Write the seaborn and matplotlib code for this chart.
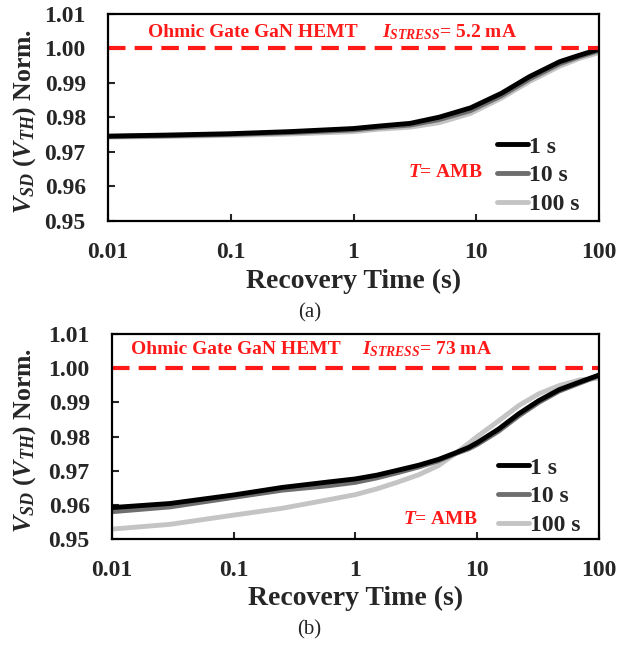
import pandas as pd
import matplotlib
matplotlib.use("Agg")
import matplotlib.pyplot as plt
import seaborn as sns

durations = ["1 s", "10 s", "100 s"]

# (a) I_stress = 5.2 mA, recovery time (s) and normalised V_SD
times_a = [0.01, 0.03, 0.1, 0.3, 1, 1.6, 2.9, 5, 9, 16, 27, 48, 70, 100]
a_1s = [0.9746, 0.9749, 0.9753, 0.9759, 0.9768, 0.9775, 0.9783, 0.9801, 0.9828, 0.9870, 0.9918, 0.9962, 0.9981, 0.9998]
a_10s = [0.9745, 0.9747, 0.9751, 0.9756, 0.9764, 0.9771, 0.9778, 0.9794, 0.9820, 0.9863, 0.9911, 0.9956, 0.9977, 0.9994]
a_100s = [0.9743, 0.9745, 0.9748, 0.9752, 0.9759, 0.9766, 0.9772, 0.9785, 0.9812, 0.9856, 0.9904, 0.9949, 0.9972, 0.9988]

# (b) I_stress = 73 mA
times_b = [0.01, 0.03, 0.1, 0.25, 0.6, 1, 1.5, 2.2, 3.3, 4.8, 6.5, 8.5, 10, 15, 22, 32, 47, 70, 100]
b_1s = [0.9592, 0.9604, 0.9629, 0.9651, 0.9667, 0.9676, 0.9687, 0.9701, 0.9716, 0.9733, 0.9751, 0.9768, 0.9782, 0.9822, 0.9867, 0.9905, 0.9937, 0.9960, 0.9980]
b_10s = [0.9580, 0.9594, 0.9622, 0.9643, 0.9656, 0.9666, 0.9679, 0.9694, 0.9711, 0.9729, 0.9749, 0.9764, 0.9777, 0.9816, 0.9861, 0.9900, 0.9933, 0.9957, 0.9978]
b_100s = [0.9529, 0.9543, 0.9570, 0.9590, 0.9615, 0.9630, 0.9647, 0.9666, 0.9688, 0.9715, 0.9748, 0.9780, 0.9800, 0.9846, 0.9891, 0.9925, 0.9949, 0.9966, 0.9971]

x_ticks = [0.01, 0.1, 1, 10, 100]
x_ticklabels = ["0.01", "0.1", "1", "10", "100"]
y_ticks = [0.95, 0.96, 0.97, 0.98, 0.99, 1.00, 1.01]

stress_labels = ["5.2 mA", "73 mA"]

sns.set_style("ticks")
plt.rcParams["font.family"] = ["Liberation Serif", "DejaVu Serif"]
plt.rcParams["font.weight"] = "bold"
plt.rcParams["mathtext.fontset"] = "custom"
plt.rcParams["mathtext.rm"] = "Liberation Serif:bold"
plt.rcParams["mathtext.bf"] = "Liberation Serif:bold"
plt.rcParams["mathtext.it"] = "Liberation Serif:italic:bold"

palette = {"1 s": "#000000", "10 s": "#6e6e6e", "100 s": "#c4c4c4"}
red = "#ff1a1a"


def make_df(times, v1, v10, v100):
    rows = []
    for dur, vals in zip(durations, [v1, v10, v100]):
        for t, v in zip(times, vals):
            rows.append({"t": t, "v": v, "dur": dur})
    return pd.DataFrame(rows)


fig = plt.figure(figsize=(6.19, 6.45), dpi=100)
ax_a = fig.add_axes([0.1745, 0.6574, 0.7932, 0.3209])
ax_b = fig.add_axes([0.1809, 0.1643, 0.7868, 0.3178])

# axis, data, stress label, text x / y, I_stress x, T= AMB pos, legend anchor, ylabel x
cfg = [
    (ax_a, make_df(times_a, a_1s, a_10s, a_100s), stress_labels[0], 0.081, 0.913, 0.558,
     (0.764, 0.232), (0.792, 0.41), -0.143),
    (ax_b, make_df(times_b, b_1s, b_10s, b_100s), stress_labels[1], 0.039, 0.927, 0.513,
     (0.752, 0.093), (0.793, 0.40), -0.152),
]

for ax, df, stress, ox, oy, ix, tpos, lpos, ylx in cfg:
    sns.lineplot(data=df, x="t", y="v", hue="dur", hue_order=durations[::-1],
                 palette=palette, linewidth=3.5, estimator=None, ax=ax)
    ax.set_xscale("log")
    ax.axhline(1.0, color=red, linestyle=(0, (4.2, 2.2)), linewidth=3)
    ax.set_xlim(0.01, 100)
    ax.set_ylim(0.95, 1.01)
    ax.set_xticks(x_ticks)
    ax.set_xticklabels(x_ticklabels)
    ax.minorticks_off()
    ax.set_yticks(y_ticks)
    ax.set_yticklabels([f"{v:.2f}" for v in y_ticks])
    ax.tick_params(axis="both", direction="in", length=5, width=1.5, labelsize=17)
    ax.tick_params(axis="x", pad=15)
    ax.tick_params(axis="y", pad=16)
    for sp in ax.spines.values():
        sp.set_visible(True)
        sp.set_linewidth(1.6)
        sp.set_color("black")
    ax.set_xlabel("Recovery Time (s)", fontsize=20, fontweight="bold")
    ax.set_ylabel(r"$V_{SD}$ ($V_{TH}$) Norm.", fontsize=18.5, fontweight="bold")
    ax.xaxis.set_label_coords(0.5, -0.23)
    ax.yaxis.set_label_coords(ylx, 0.48)

    ax.text(ox, oy, "Ohmic Gate GaN HEMT", transform=ax.transAxes, color=red,
            fontsize=14, fontweight="bold", va="center", ha="left")
    ax.text(ix, oy, r"$I_{STRESS}$= " + stress, transform=ax.transAxes, color=red,
            fontsize=14, fontweight="bold", va="center", ha="left")
    ax.text(tpos[0], tpos[1], r"$T$= AMB", transform=ax.transAxes, color=red,
            fontsize=14, fontweight="bold", va="center", ha="right")

    handles, labels = ax.get_legend_handles_labels()
    order = [labels.index(d) for d in durations]
    leg = ax.legend([handles[i] for i in order], [labels[i] for i in order],
                    loc="upper left", bbox_to_anchor=lpos, frameon=False,
                    fontsize=17, handlelength=1.3, handletextpad=0.05,
                    labelspacing=0.3, borderpad=0, borderaxespad=0)
    for h in leg.get_lines():
        h.set_linewidth(3.5)

fig.text(0.50, 0.515, "(a)", ha="center", va="center", fontsize=15, fontweight="normal")
fig.text(0.50, 0.023, "(b)", ha="center", va="center", fontsize=15, fontweight="normal")

fig.savefig("out.png", dpi=100)
